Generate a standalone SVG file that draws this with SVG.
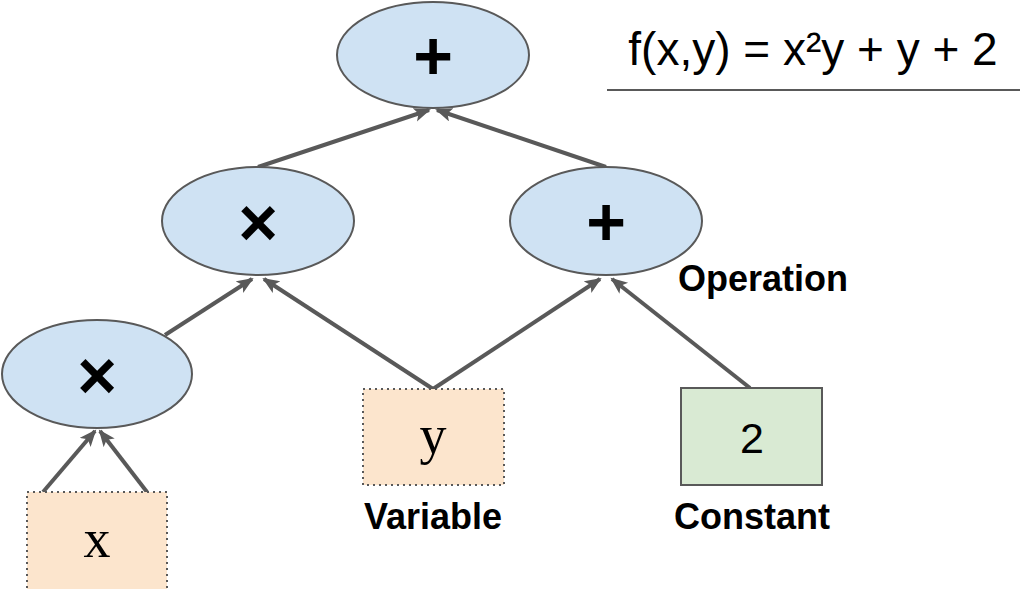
<svg xmlns="http://www.w3.org/2000/svg" width="1024" height="589" viewBox="0 0 1024 589">
<style>
.op{fill:#cfe2f3;stroke:#595959;stroke-width:2}
.var{fill:#fce5cd;stroke:#595959;stroke-width:2;stroke-dasharray:2,4}
.const{fill:#d9ead3;stroke:#595959;stroke-width:2}
.sym{font-family:"Liberation Sans",Arial,sans-serif;font-weight:bold;font-size:68px;fill:#000;text-anchor:middle}
.serif{font-family:"Liberation Serif","Times New Roman",serif;font-size:54px;fill:#000;text-anchor:middle}
.num{font-family:"Liberation Sans",Arial,sans-serif;font-size:43px;fill:#000;text-anchor:middle}
.lbl{font-family:"Liberation Sans",Arial,sans-serif;font-weight:bold;font-size:36px;fill:#000}
.edge{stroke:#595959;stroke-width:4;fill:none;marker-end:url(#arr)}
</style>
<defs>
<marker id="arr" markerUnits="userSpaceOnUse" markerWidth="18" markerHeight="16" refX="15" refY="7" orient="auto">
<path d="M0,0 L17,7 L0,14 L4,7 z" fill="#595959"/>
</marker>
</defs>
<rect width="1024" height="589" fill="#fff"/>
<g id="connectors">
<line class="edge" x1="258" y1="167" x2="429" y2="110"/>
<line class="edge" x1="606" y1="167" x2="437" y2="110"/>
<line class="edge" x1="165" y1="335" x2="252" y2="279"/>
<line class="edge" x1="433" y1="389" x2="264" y2="279"/>
<line class="edge" x1="433" y1="389" x2="600" y2="279"/>
<line class="edge" x1="750" y1="388" x2="612" y2="279"/>
<line class="edge" x1="43" y1="492" x2="95" y2="431"/>
<line class="edge" x1="147" y1="492" x2="100" y2="431"/>
</g>
<g id="plus-top">
<ellipse class="op" cx="433" cy="55" rx="96" ry="53"/>
<text class="sym" x="433" y="79">+</text>
</g>
<g id="times-mid">
<ellipse class="op" cx="258" cy="221" rx="96" ry="54"/>
<text class="sym" x="258" y="246">×</text>
</g>
<g id="plus-mid">
<ellipse class="op" cx="606" cy="221" rx="96" ry="54"/>
<text class="sym" x="606" y="245">+</text>
</g>
<g id="times-low">
<ellipse class="op" cx="97" cy="374" rx="95" ry="54"/>
<text class="sym" x="97" y="399">×</text>
</g>
<g id="var-x">
<rect class="var" x="27" y="492" width="140" height="100"/>
<text class="serif" x="97" y="557">x</text>
</g>
<g id="var-y">
<rect class="var" x="363" y="389" width="141" height="96"/>
<text class="serif" x="433" y="453">y</text>
</g>
<g id="const-2">
<rect class="const" x="681" y="388" width="141" height="97"/>
<text class="num" x="752" y="453">2</text>
</g>
<g id="labels">
<text class="lbl" x="678" y="291">Operation</text>
<text class="lbl" x="433" y="529" text-anchor="middle">Variable</text>
<text class="lbl" x="752" y="529" text-anchor="middle">Constant</text>
</g>
<g id="formula">
<text x="813" y="65" font-family="Liberation Sans,Arial,sans-serif" font-size="46" text-anchor="middle" fill="#000">f(x,y) = x²y + y + 2</text>
<line x1="607" y1="90" x2="1020" y2="90" stroke="#595959" stroke-width="2"/>
</g>
</svg>
